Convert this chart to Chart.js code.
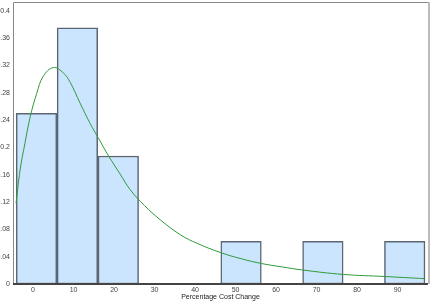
<!DOCTYPE html>
<html>
<head>
<meta charset="utf-8">
<script src="https://cdn.jsdelivr.net/npm/chart.js@4"></script>
<style>
  html, body { margin: 0; padding: 0; background: #fff; }
  #wrap { width: 431px; height: 301px; }
</style>
</head>
<body>
<div id="wrap"><canvas id="chart"></canvas></div>
<script>
// histogram bins (centre of each bin) and relative frequency
const binCenters = [0.85, 10.95, 21.05, 31.15, 41.25, 51.35, 61.45, 71.55, 81.65, 91.75];
const binValues  = [0.25, 0.375, 0.1875, 0, 0, 0.0625, 0, 0.0625, 0, 0.0625];

// fitted density curve
const curveX = [-4.2, -3.2, -2.0, -0.7, 0.9, 2.5, 5.0, 7.5, 9.2, 11.6, 14.1, 16.2, 18.6, 21.5, 24.0, 27.5, 31.4, 36.4, 40.5, 46.3, 51.4, 56.4, 61.5, 66.5, 76.6, 86.7, 96.8];
const curveY = [0.118, 0.167, 0.206, 0.245, 0.279, 0.304, 0.317, 0.309, 0.295, 0.265, 0.235, 0.213, 0.188, 0.161, 0.138, 0.115, 0.094, 0.072, 0.0596, 0.046, 0.037, 0.030, 0.025, 0.0205, 0.014, 0.011, 0.0078];

const xTicks = [0, 10, 20, 30, 40, 50, 60, 70, 80, 90];
const yTicks = [0, 0.04, 0.08, 0.12, 0.16, 0.2, 0.24, 0.28, 0.32, 0.36, 0.4];

const FONT = 'Liberation Sans, Arial, sans-serif';

/* ─── frame round the plot area ─── */
const framePlugin = {
    id: 'frame',
    afterDraw(chart) {
        const { ctx, chartArea: a } = chart;
        ctx.save();
        ctx.strokeStyle = '#888';
        ctx.lineWidth = 1;
        ctx.beginPath();
        ctx.moveTo(a.left + 0.5, a.bottom);
        ctx.lineTo(a.left + 0.5, a.top + 0.5);
        ctx.lineTo(a.right, a.top + 0.5);
        ctx.stroke();
        ctx.strokeStyle = '#bbb';
        ctx.lineWidth = 2;
        ctx.beginPath();
        ctx.moveTo(a.right + 1, a.top);
        ctx.lineTo(a.right + 1, a.bottom);
        ctx.stroke();
        ctx.strokeStyle = '#444';
        ctx.lineWidth = 2;
        ctx.beginPath();
        ctx.moveTo(a.left, a.bottom);
        ctx.lineTo(a.right, a.bottom);
        ctx.stroke();
        ctx.restore();
    }
};

new Chart(document.getElementById('chart'), {
    data: {
        datasets: [
            {
                type: 'line',
                data: curveX.map((x, i) => ({ x: x, y: curveY[i] })),
                borderColor: '#2e9a3a',
                borderWidth: 1,
                pointRadius: 0,
                tension: 0.4,
                fill: false,
                order: 0,
            },
            {
                type: 'bar',
                data: binCenters.map((x, i) => ({ x: x, y: binValues[i] })),
                backgroundColor: '#cce5ff',
                borderColor: '#5b6673',
                borderWidth: 1.5,
                borderSkipped: false,
                barPercentage: 1,
                categoryPercentage: 1,
                order: 1,
            }
        ]
    },
    options: {
        responsive: true,
        maintainAspectRatio: false,
        animation: false,
        layout: { padding: { top: 2, right: 3, left: 0, bottom: 0 } },
        plugins: {
            legend: { display: false },
            tooltip: { enabled: false }
        },
        scales: {
            x: {
                type: 'linear',
                min: -4.95,
                max: 97.5,
                offset: false,
                grid: { display: false, drawTicks: false },
                border: { display: false },
                afterBuildTicks: s => { s.ticks = xTicks.map(v => ({ value: v })); },
                afterFit: s => { s.height = 17; s.paddingLeft = 0; s.paddingRight = 0; },
                ticks: {
                    padding: 1.5,
                    maxRotation: 0,
                    autoSkip: false,
                    color: '#444',
                    font: { family: FONT, size: 7 }
                },
                title: {
                    display: true,
                    text: 'Percentage Cost Change',
                    color: '#222',
                    padding: { top: 0, bottom: 0 },
                    font: { family: FONT, size: 7 }
                }
            },
            y: {
                min: 0,
                max: 0.413,
                grid: { display: false, drawTicks: false },
                border: { display: false },
                afterBuildTicks: s => { s.ticks = yTicks.map(v => ({ value: v })); },
                afterFit: s => { s.width = 13; s.paddingTop = 0; s.paddingBottom = 0; },
                ticks: {
                    padding: 3,
                    color: '#444',
                    font: { family: FONT, size: 7 },
                    callback: v => String(+v.toFixed(2))
                }
            }
        }
    },
    plugins: [framePlugin]
});
</script>
</body>
</html>
